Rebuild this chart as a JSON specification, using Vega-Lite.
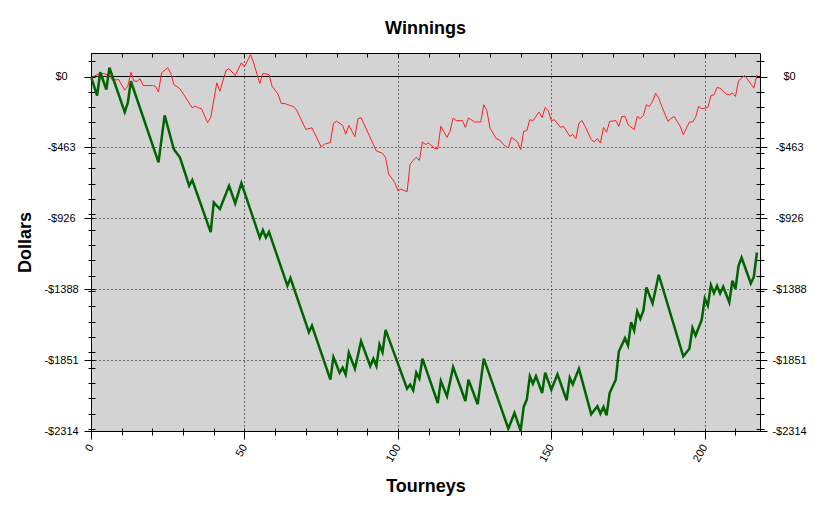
{
  "$schema": "https://vega.github.io/schema/vega-lite/v6.json",
  "width": 669,
  "height": 378,
  "autosize": {"type": "none"},
  "padding": {"left": 91, "top": 53, "right": 61, "bottom": 79},
  "background": "white",
  "title": {
    "text": "Winnings",
    "font": "Liberation Sans",
    "fontSize": 18,
    "fontWeight": "bold",
    "color": "black",
    "anchor": "middle",
    "frame": "group",
    "offset": 15
  },
  "config": {
    "view": {"fill": "#d3d3d3", "stroke": "black", "strokeWidth": 1},
    "axis": {
      "labelFont": "Liberation Sans",
      "labelFontSize": 11,
      "labelColor": "black",
      "titleFont": "Liberation Sans",
      "titleFontSize": 18,
      "titleFontWeight": "bold",
      "titleColor": "black",
      "tickColor": "black",
      "gridColor": "black",
      "gridDash": [1, 3],
      "domain": false,
      "labelOverlap": false,
      "labelFlush": false,
      "labelBound": false
    }
  },
  "datasets": {
    "red": [
      {"t": 0, "won": -10}, {"t": 2, "won": 13}, {"t": 4, "won": 20}, {"t": 6, "won": 7},
      {"t": 7, "won": -24}, {"t": 9, "won": -20}, {"t": 11, "won": -89}, {"t": 12, "won": -63},
      {"t": 13, "won": 28}, {"t": 14, "won": -31}, {"t": 15, "won": -31}, {"t": 16, "won": -15},
      {"t": 17, "won": -59}, {"t": 20, "won": -59}, {"t": 21, "won": -63}, {"t": 22, "won": -102},
      {"t": 23, "won": 24}, {"t": 25, "won": 57}, {"t": 26, "won": 20}, {"t": 27, "won": -52},
      {"t": 29, "won": -80}, {"t": 30, "won": -111}, {"t": 33, "won": -204}, {"t": 34, "won": -193},
      {"t": 35, "won": -204}, {"t": 36, "won": -210}, {"t": 38, "won": -301}, {"t": 39, "won": -269},
      {"t": 41, "won": -41}, {"t": 42, "won": -96}, {"t": 44, "won": 41}, {"t": 45, "won": 50},
      {"t": 47, "won": 7}, {"t": 49, "won": 89}, {"t": 50, "won": 63}, {"t": 52, "won": 143},
      {"t": 53, "won": 89}, {"t": 55, "won": -46}, {"t": 56, "won": 20}, {"t": 58, "won": 13},
      {"t": 59, "won": -63}, {"t": 61, "won": -117}, {"t": 62, "won": -176}, {"t": 63, "won": -176},
      {"t": 65, "won": -189}, {"t": 66, "won": -197}, {"t": 67, "won": -219}, {"t": 70, "won": -345},
      {"t": 72, "won": -335}, {"t": 75, "won": -460}, {"t": 76, "won": -442}, {"t": 78, "won": -431},
      {"t": 79, "won": -306}, {"t": 80, "won": -291}, {"t": 82, "won": -319}, {"t": 83, "won": -377},
      {"t": 84, "won": -319}, {"t": 86, "won": -392}, {"t": 87, "won": -275}, {"t": 88, "won": -269},
      {"t": 90, "won": -356}, {"t": 93, "won": -486}, {"t": 95, "won": -501}, {"t": 96, "won": -529},
      {"t": 97, "won": -637}, {"t": 99, "won": -691}, {"t": 100, "won": -746}, {"t": 101, "won": -735},
      {"t": 103, "won": -752}, {"t": 104, "won": -572}, {"t": 105, "won": -548}, {"t": 106, "won": -527},
      {"t": 107, "won": -548}, {"t": 108, "won": -427}, {"t": 109, "won": -444}, {"t": 110, "won": -434},
      {"t": 112, "won": -470}, {"t": 113, "won": -470}, {"t": 114, "won": -325}, {"t": 116, "won": -397},
      {"t": 117, "won": -358}, {"t": 118, "won": -271}, {"t": 119, "won": -288}, {"t": 121, "won": -288},
      {"t": 122, "won": -332}, {"t": 123, "won": -271}, {"t": 125, "won": -297}, {"t": 127, "won": -297},
      {"t": 128, "won": -184}, {"t": 129, "won": -223}, {"t": 130, "won": -336}, {"t": 132, "won": -405},
      {"t": 133, "won": -412}, {"t": 135, "won": -455}, {"t": 136, "won": -466}, {"t": 137, "won": -397},
      {"t": 139, "won": -427}, {"t": 140, "won": -477}, {"t": 141, "won": -358}, {"t": 142, "won": -353},
      {"t": 143, "won": -282}, {"t": 144, "won": -288}, {"t": 146, "won": -232}, {"t": 147, "won": -267},
      {"t": 148, "won": -202}, {"t": 149, "won": -223}, {"t": 150, "won": -288}, {"t": 151, "won": -282},
      {"t": 153, "won": -332}, {"t": 154, "won": -325}, {"t": 156, "won": -390}, {"t": 157, "won": -379},
      {"t": 158, "won": -405}, {"t": 159, "won": -304}, {"t": 160, "won": -288}, {"t": 161, "won": -325},
      {"t": 163, "won": -412}, {"t": 164, "won": -427}, {"t": 165, "won": -405}, {"t": 166, "won": -434},
      {"t": 167, "won": -332}, {"t": 168, "won": -364}, {"t": 169, "won": -293}, {"t": 171, "won": -288},
      {"t": 172, "won": -325}, {"t": 173, "won": -260}, {"t": 174, "won": -260}, {"t": 175, "won": -314},
      {"t": 177, "won": -347}, {"t": 178, "won": -260}, {"t": 179, "won": -275}, {"t": 180, "won": -254},
      {"t": 181, "won": -184}, {"t": 182, "won": -195}, {"t": 183, "won": -163}, {"t": 184, "won": -109},
      {"t": 185, "won": -141}, {"t": 186, "won": -195}, {"t": 188, "won": -293}, {"t": 189, "won": -275},
      {"t": 190, "won": -260}, {"t": 191, "won": -293}, {"t": 192, "won": -325}, {"t": 193, "won": -379},
      {"t": 195, "won": -297}, {"t": 196, "won": -297}, {"t": 197, "won": -267}, {"t": 198, "won": -195},
      {"t": 199, "won": -210}, {"t": 201, "won": -202}, {"t": 202, "won": -124}, {"t": 203, "won": -119},
      {"t": 204, "won": -72}, {"t": 205, "won": -76}, {"t": 207, "won": -115}, {"t": 208, "won": -119},
      {"t": 209, "won": -109}, {"t": 210, "won": -130}, {"t": 211, "won": -28}, {"t": 213, "won": 7},
      {"t": 214, "won": -21}, {"t": 216, "won": -76}, {"t": 217, "won": 11}
    ],
    "green": [
      {"t": 0, "won": 0}, {"t": 2, "won": -124}, {"t": 3, "won": 28}, {"t": 5, "won": -85},
      {"t": 6, "won": 57}, {"t": 11, "won": -232}, {"t": 12, "won": -171}, {"t": 13, "won": -31},
      {"t": 22, "won": -561}, {"t": 24, "won": -254}, {"t": 27, "won": -475}, {"t": 29, "won": -529},
      {"t": 32, "won": -713}, {"t": 33, "won": -676}, {"t": 39, "won": -1016}, {"t": 40, "won": -821},
      {"t": 42, "won": -865}, {"t": 45, "won": -713}, {"t": 47, "won": -828}, {"t": 49, "won": -696},
      {"t": 55, "won": -1052}, {"t": 56, "won": -1003}, {"t": 57, "won": -1052}, {"t": 58, "won": -1014},
      {"t": 64, "won": -1366}, {"t": 65, "won": -1316}, {"t": 71, "won": -1669}, {"t": 72, "won": -1626},
      {"t": 78, "won": -1979}, {"t": 79, "won": -1832}, {"t": 81, "won": -1933}, {"t": 82, "won": -1901},
      {"t": 83, "won": -1946}, {"t": 84, "won": -1803}, {"t": 86, "won": -1907}, {"t": 88, "won": -1728},
      {"t": 91, "won": -1890}, {"t": 92, "won": -1842}, {"t": 93, "won": -1890}, {"t": 94, "won": -1749},
      {"t": 95, "won": -1799}, {"t": 96, "won": -1654}, {"t": 103, "won": -2037}, {"t": 104, "won": -2011},
      {"t": 105, "won": -2048}, {"t": 106, "won": -1933}, {"t": 107, "won": -1972}, {"t": 108, "won": -1842},
      {"t": 113, "won": -2131}, {"t": 114, "won": -1988}, {"t": 116, "won": -2087}, {"t": 118, "won": -1897},
      {"t": 122, "won": -2118}, {"t": 123, "won": -1979}, {"t": 126, "won": -2139}, {"t": 128, "won": -1842},
      {"t": 136, "won": -2298}, {"t": 138, "won": -2196}, {"t": 140, "won": -2313}, {"t": 141, "won": -2157},
      {"t": 142, "won": -2109}, {"t": 143, "won": -1957}, {"t": 144, "won": -2005}, {"t": 145, "won": -1956},
      {"t": 147, "won": -2066}, {"t": 148, "won": -1933}, {"t": 150, "won": -2044}, {"t": 152, "won": -1944},
      {"t": 155, "won": -2113}, {"t": 156, "won": -1966}, {"t": 157, "won": -2009}, {"t": 159, "won": -1907},
      {"t": 163, "won": -2204}, {"t": 165, "won": -2152}, {"t": 166, "won": -2200}, {"t": 167, "won": -2157},
      {"t": 168, "won": -2211}, {"t": 169, "won": -2066}, {"t": 171, "won": -1979}, {"t": 172, "won": -1795},
      {"t": 174, "won": -1708}, {"t": 175, "won": -1756}, {"t": 176, "won": -1604}, {"t": 177, "won": -1658},
      {"t": 178, "won": -1533}, {"t": 179, "won": -1582}, {"t": 180, "won": -1528}, {"t": 181, "won": -1377},
      {"t": 183, "won": -1481}, {"t": 185, "won": -1294}, {"t": 193, "won": -1827}, {"t": 195, "won": -1777},
      {"t": 196, "won": -1641}, {"t": 197, "won": -1691}, {"t": 199, "won": -1589}, {"t": 200, "won": -1448},
      {"t": 201, "won": -1496}, {"t": 202, "won": -1361}, {"t": 203, "won": -1413}, {"t": 204, "won": -1366},
      {"t": 205, "won": -1416}, {"t": 206, "won": -1372}, {"t": 208, "won": -1474}, {"t": 209, "won": -1333},
      {"t": 210, "won": -1387}, {"t": 211, "won": -1236}, {"t": 212, "won": -1182}, {"t": 215, "won": -1351},
      {"t": 216, "won": -1307}, {"t": 217, "won": -1149}
    ]
  },
  "layer": [
    {
      "data": {"name": "red"},
      "mark": {"type": "rule", "color": "black", "strokeWidth": 1},
      "encoding": {
        "y": {"datum": 0, "type": "quantitative", "scale": {"domain": [-2314, 153.5], "nice": false, "zero": false}, "axis": null}
      }
    },
    {
      "data": {"name": "red"},
      "mark": {"type": "line", "color": "#ff2020", "strokeWidth": 1},
      "encoding": {
        "x": {
          "field": "t",
          "type": "quantitative",
          "scale": {"domain": [0, 218], "nice": false, "zero": false},
          "axis": {
            "orient": "bottom",
            "values": [0, 10, 20, 30, 40, 50, 60, 70, 80, 90, 100, 110, 120, 130, 140, 150, 160, 170, 180, 190, 200, 210],
            "offset": -3,
            "tickSize": {"condition": {"test": "datum.value % 50 == 0", "value": 11}, "value": 7},
            "labelExpr": "datum.value % 50 == 0 ? datum.label : ''",
            "labelAngle": -60,
            "labelAlign": "right",
            "labelBaseline": "middle",
            "labelPadding": 6,
            "grid": true,
            "gridOpacity": {"condition": {"test": "datum.value % 50 == 0 && datum.value > 0", "value": 1}, "value": 0},
            "title": "Tourneys",
            "titlePadding": 14
          }
        },
        "y": {
          "field": "won",
          "type": "quantitative",
          "scale": {"domain": [-2314, 153.5], "nice": false, "zero": false},
          "axis": {
            "orient": "left",
            "values": [100, 0, -100, -200, -300, -400, -463, -500, -600, -700, -800, -900, -926, -1000, -1100, -1200, -1300, -1388, -1400, -1500, -1600, -1700, -1800, -1851, -1900, -2000, -2100, -2200, -2300, -2314],
            "offset": -4,
            "tickSize": {"condition": {"test": "indexof([0, -463, -926, -1388, -1851, -2314], datum.value) >= 0", "value": 11}, "value": 7},
            "labelExpr": "indexof([0, -463, -926, -1388, -1851, -2314], datum.value) < 0 ? '' : (datum.value < 0 ? '-$' + (-datum.value) : '$' + datum.value)",
            "labelAlign": "center",
            "labelPadding": 23,
            "grid": true,
            "gridOpacity": {"condition": {"test": "indexof([-463, -926, -1388, -1851], datum.value) >= 0", "value": 1}, "value": 0},
            "title": "Dollars",
            "titlePadding": 9
          }
        }
      }
    },
    {
      "data": {"name": "green"},
      "mark": {"type": "line", "color": "#006400", "strokeWidth": 2.5},
      "encoding": {
        "x": {
          "field": "t",
          "type": "quantitative",
          "scale": {"domain": [0, 218], "nice": false, "zero": false},
          "axis": {
            "orient": "top",
            "values": [0, 10, 20, 30, 40, 50, 60, 70, 80, 90, 100, 110, 120, 130, 140, 150, 160, 170, 180, 190, 200, 210],
            "offset": -4,
            "tickSize": 4,
            "labels": false,
            "grid": false,
            "title": null
          }
        },
        "y": {
          "field": "won",
          "type": "quantitative",
          "scale": {"domain": [-2314, 153.5], "nice": false, "zero": false},
          "axis": {
            "orient": "right",
            "values": [100, 0, -100, -200, -300, -400, -463, -500, -600, -700, -800, -900, -926, -1000, -1100, -1200, -1300, -1388, -1400, -1500, -1600, -1700, -1800, -1851, -1900, -2000, -2100, -2200, -2300, -2314],
            "offset": -4,
            "tickSize": {"condition": {"test": "indexof([0, -463, -926, -1388, -1851, -2314], datum.value) >= 0", "value": 11}, "value": 8},
            "labelExpr": "indexof([0, -463, -926, -1388, -1851, -2314], datum.value) < 0 ? '' : (datum.value < 0 ? '-$' + (-datum.value) : '$' + datum.value)",
            "labelAlign": "center",
            "labelPadding": 22,
            "grid": false,
            "title": null
          }
        }
      }
    }
  ],
  "resolve": {"axis": {"x": "independent", "y": "independent"}}
}
